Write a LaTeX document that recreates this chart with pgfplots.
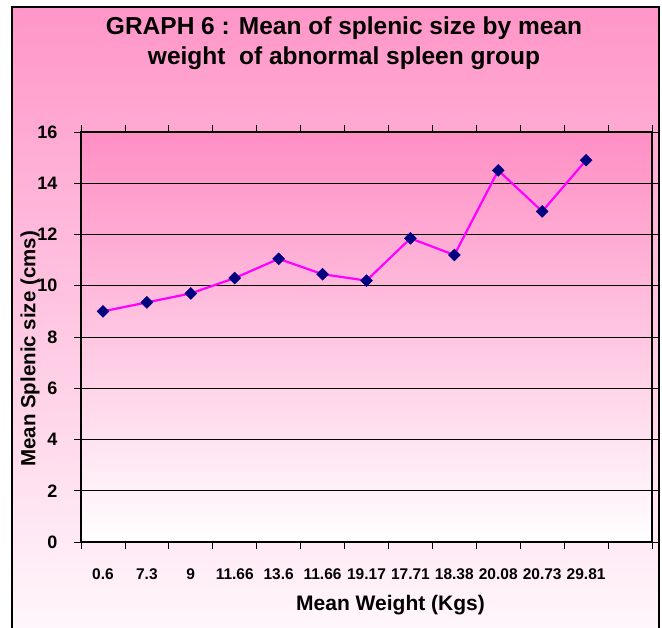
\documentclass[border=0pt]{standalone}
\usepackage{pgfplots}
\pgfplotsset{compat=1.18}
\usepackage{fontspec}
\setmainfont{Liberation Sans}
\definecolor{pinktop}{RGB}{255,150,200}
\definecolor{pinkbot}{RGB}{255,248,252}
\definecolor{plottop}{RGB}{255,142,196}
\definecolor{navy}{RGB}{0,0,128}
\definecolor{mag}{RGB}{255,0,255}
\begin{document}
\begin{tikzpicture}[x=1pt,y=1pt]
\useasboundingbox (0,0) rectangle (662,628);
\clip (0,0) rectangle (662,628);
\fill[white] (0,0) rectangle (662,628);
\shade[top color=pinktop, bottom color=pinkbot] (12,-5) rectangle (659,621);
\draw[line width=2pt] (12,-5) rectangle (659,621);
\node[font=\bfseries\fontsize{24.5}{30}\selectfont, align=center] at (344,585) {GRAPH 6 : Mean of splenic size by mean\\weight\ \ of abnormal spleen group};
\begin{axis}[at={(81pt,86pt)}, anchor=south west, width=571pt, height=410pt, scale only axis,
  xmin=-0.5, xmax=12.5, ymin=0, ymax=16,
  ytick={0,2,...,16},
  minor ytick={0,2,...,16},
  ymajorgrids, grid style={black, line width=0.8pt},
  xtick={0,1,...,11},
  xticklabels={0.6,7.3,9,11.66,13.6,11.66,19.17,17.71,18.38,20.08,20.73,29.81},
  minor xtick={-0.5,0.5,...,12.5},
  x tick label style={font=\bfseries\fontsize{15.5}{17}\selectfont, anchor=center, yshift=-32pt},
  tick align=outside, major tick length=0pt, minor tick length=7pt,
  tick style={black, line width=0.8pt},
  yticklabel style={font=\bfseries\fontsize{18}{20}\selectfont, anchor=east, xshift=-20pt},
  /pgf/number format/assume math mode=true,
  axis background/.style={top color=plottop, bottom color=white},
  axis line style={line width=1.6pt},
  xlabel={Mean Weight (Kgs)}, ylabel={Mean Splenic size (cms)},
  every axis x label/.style={at={(axis description cs:0.5,0)}, anchor=center, xshift=24pt, yshift=-63pt, font=\bfseries\fontsize{21}{23}\selectfont},
  every axis y label/.style={at={(axis description cs:0,0.471)}, xshift=-51pt, rotate=90, anchor=center, font=\bfseries\fontsize{20.5}{22}\selectfont},
]
\addplot[color=mag, line width=2.2pt, mark=square*, mark size=4.2pt,
  mark options={fill=navy, draw=navy, line width=0.5pt, rotate=45}]
  coordinates {(0,9.0) (1,9.35) (2,9.7) (3,10.3) (4,11.05) (5,10.45) (6,10.2) (7,11.85) (8,11.2) (9,14.5) (10,12.9) (11,14.9)};
\end{axis}
\end{tikzpicture}
\end{document}
